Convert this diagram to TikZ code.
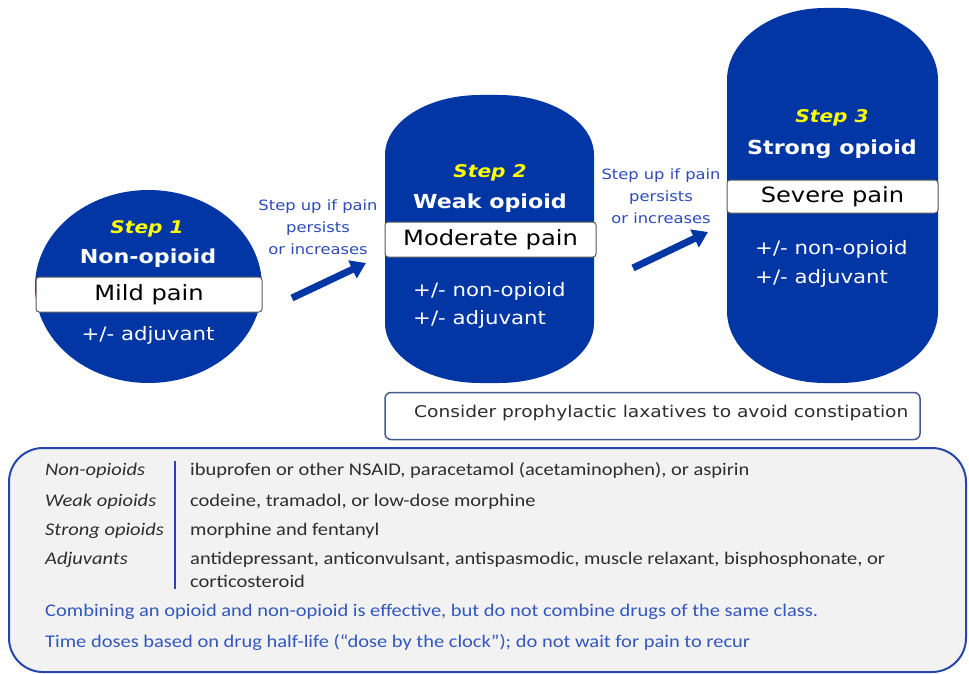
\documentclass[tikz,border=0pt]{standalone}
\usepackage{fontspec}
\setmainfont[FakeStretch=1.15]{DejaVu Sans}
\newfontfamily\tablefont[FakeStretch=1.15]{Carlito}
\usetikzlibrary{arrows.meta, positioning, shapes.geometric}
\definecolor{stepBlue}{RGB}{2,54,164}
\definecolor{stepYellow}{RGB}{255,255,0}
\definecolor{hintBlue}{RGB}{45,75,185}
\definecolor{noteBlue}{RGB}{50,88,190}
\definecolor{frameBlue}{RGB}{38,70,172}
\definecolor{laxFrame}{RGB}{70,90,145}
\definecolor{softGray}{RGB}{242,242,242}
\definecolor{darkText}{RGB}{45,45,45}
% pill with elliptic ends: x1, y1, x2, y2, x radius, y radius
\newcommand{\pillshape}[6]{%
    \fill[stepBlue] (#1,#2+#6) arc[start angle=180, end angle=270, x radius=#5, y radius=#6]
        -- (#3-#5,#2) arc[start angle=270, end angle=360, x radius=#5, y radius=#6]
        -- (#3,#4-#6) arc[start angle=0, end angle=90, x radius=#5, y radius=#6]
        -- (#1+#5,#4) arc[start angle=90, end angle=180, x radius=#5, y radius=#6] -- cycle;}
\tikzset{
    painbox/.style={
        rectangle,
        draw=black!65,
        line width=1pt,
        rounded corners=3pt,
        fill=white,
        text=black,
        inner sep=0pt,
        minimum width=211pt,
        minimum height=35pt,
        font=\fontsize{21}{24}\selectfont
    },
    steptitle/.style={anchor=base, inner sep=0pt, text=stepYellow, font=\fontsize{17.5}{20}\selectfont\bfseries\itshape},
    stepname/.style={anchor=base, inner sep=0pt, text=white, font=\fontsize{19.3}{22}\selectfont\bfseries},
    steptext/.style={anchor=base west, inner sep=0pt, text=white, font=\fontsize{18.5}{20}\selectfont},
    hintlabel/.style={align=center, inner sep=0pt, text=hintBlue, font=\fontsize{14.2}{22}\selectfont},
    stepuparrow/.style={-{Triangle[length=15pt, width=19pt]}, line width=7pt, draw=stepBlue},
    rowlabel/.style={anchor=base west, inner sep=0pt, text=darkText, font=\tablefont\fontsize{17.8}{22}\selectfont\itshape},
    rowtext/.style={anchor=base west, inner sep=0pt, text=darkText, font=\tablefont\fontsize{17.8}{22}\selectfont},
    tipnote/.style={anchor=base west, inner sep=0pt, text=noteBlue, font=\tablefont\fontsize{17.8}{22}\selectfont}
}
\begin{document}
\begin{tikzpicture}[x=1pt, y=-1pt]
    \useasboundingbox (0,0) rectangle (969,674);

    % step 1
    \node[ellipse, fill=stepBlue, inner sep=0pt, minimum width=227pt, minimum height=193pt] (step1) at (148.5,286.5) {};
    \node[steptitle] (s1title) at (147,233) {Step 1};
    \node[stepname] (s1name) at (148,263) {Non-opioid};
    \node[painbox, minimum width=226pt] (mild) at (149,294.5) {Mild pain};
    \node[steptext, anchor=base] (s1adj) at (148,340) {+/- adjuvant};

    % step 2
    \pillshape{385}{95}{594}{383}{95}{60}
    \node[steptitle] (s2title) at (490,178) {Step 2};
    \node[stepname] (s2name) at (490,208) {Weak opioid};
    \node[painbox] (moderate) at (490.5,239.5) {Moderate pain};
    \node[steptext] (s2non) at (413,296) {+/- non-opioid};
    \node[steptext] (s2adj) at (413,324) {+/- adjuvant};

    % step 3
    \pillshape{727}{8}{938}{383}{98}{72}
    \node[steptitle] (s3title) at (832,123) {Step 3};
    \node[stepname] (s3name) at (832,154) {Strong opioid};
    \node[painbox, minimum height=33pt] (severe) at (832.5,196.5) {Severe pain};
    \node[steptext] (s3non) at (755,254) {+/- non-opioid};
    \node[steptext] (s3adj) at (755,283) {+/- adjuvant};

    % step up hints
    \node[hintlabel] (hint1) at (318,227) {Step up if pain\\persists\\or increases};
    \node[hintlabel] (hint2) at (661,196) {Step up if pain\\persists\\or increases};
    \coordinate (up1from) at (292,298);
    \coordinate (up1to) at (366,263);
    \coordinate (up2from) at (633,268);
    \coordinate (up2to) at (708,232);
    \draw[stepuparrow] (up1from) -- (up1to);
    \draw[stepuparrow] (up2from) -- (up2to);

    % laxatives
    \node[draw=laxFrame, line width=1.5pt, rounded corners=6pt, minimum width=535pt, minimum height=47pt] (laxbox) at (652.5,416) {};
    \node[anchor=base west, inner sep=0pt, text=darkText, font=\fontsize{16.2}{20}\selectfont] (laxtext) at (414,417) {Consider prophylactic laxatives to avoid constipation};

    % drug classes
    \node[draw=frameBlue, line width=2pt, fill=softGray, rounded corners=34pt, minimum width=957pt, minimum height=224pt] (legend) at (487.5,560) {};
    \node[rowlabel] (nonlabel) at (45,475) {Non-opioids};
    \node[rowlabel] (weaklabel) at (45,506) {Weak opioids};
    \node[rowlabel] (stronglabel) at (45,535) {Strong opioids};
    \node[rowlabel] (adjlabel) at (45,564) {Adjuvants};
    \coordinate (barTop) at (175,461);
    \coordinate (barBottom) at (175,589);
    \draw[frameBlue, line width=1.6pt] (barTop) -- (barBottom);
    \node[rowtext] (nontext) at (190,475) {ibuprofen or other NSAID, paracetamol (acetaminophen), or aspirin};
    \node[rowtext] (weaktext) at (190,506) {codeine, tramadol, or low-dose morphine};
    \node[rowtext] (strongtext) at (190,535) {morphine and fentanyl};
    \node[rowtext] (adjtext) at (190,564) {antidepressant, anticonvulsant, antispasmodic, muscle relaxant, bisphosphonate, or};
    \node[rowtext] (adjtext2) at (190,587) {corticosteroid};
    \node[tipnote] (combine) at (45,616) {Combining an opioid and non-opioid is effective, but do not combine drugs of the same class.};
    \node[tipnote] (timing) at (45,647) {Time doses based on drug half-life (“dose by the clock”); do not wait for pain to recur};
\end{tikzpicture}
\end{document}
